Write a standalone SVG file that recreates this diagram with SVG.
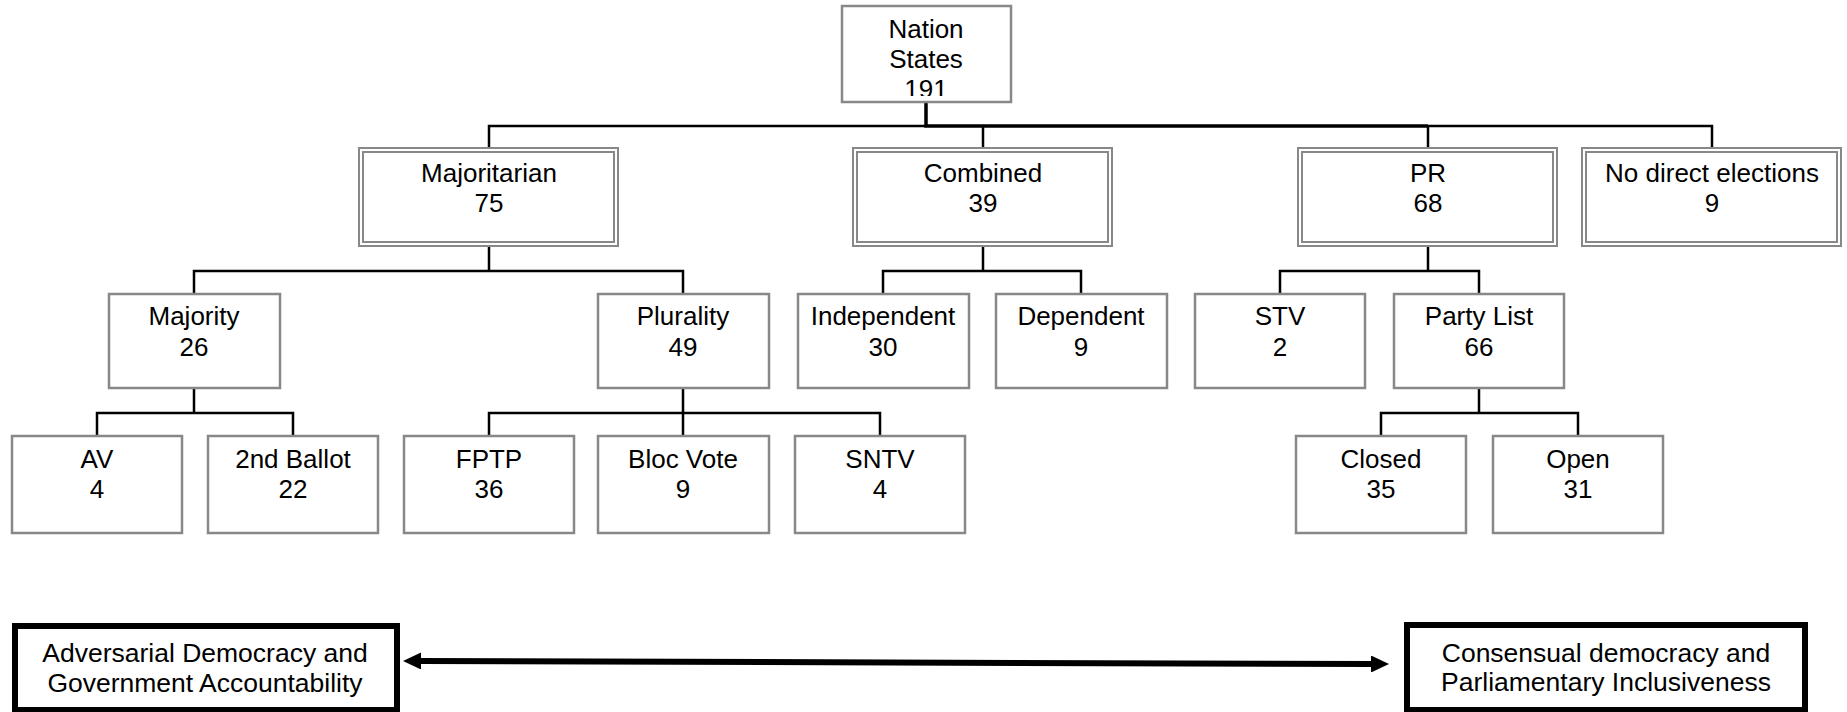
<svg xmlns="http://www.w3.org/2000/svg" width="1847" height="712" viewBox="0 0 1847 712">
<style>
text{font-family:"Liberation Sans",Arial,sans-serif;font-size:26px;fill:#000;text-anchor:middle}
.b{fill:#fff;stroke:#888;stroke-width:2.5}
.d{fill:none;stroke:#888;stroke-width:2}
.c{fill:none;stroke:#000;stroke-width:2.5}
.t{fill:none;stroke:#000;stroke-width:3.5}
.k{fill:#fff;stroke:#000;stroke-width:6}
.bt{font-size:26.5px}
</style>
<defs>
<clipPath id="nclip"><rect x="842" y="6" width="170" height="90"/></clipPath>
<marker id="ah" markerUnits="userSpaceOnUse" markerWidth="18" markerHeight="17" refX="0" refY="8.5" orient="auto-start-reverse" viewBox="0 0 18 17"><path d="M0,0 L18,8.5 L0,17 Z" fill="#000"/></marker>
</defs>
<g id="connectors">
<path class="t" d="M926,102 V126 H1428"/>
<path class="c" d="M489,148 V126 H926 M1428,126 H1712 V148 M983,126 V148 M1428,126 V148"/>
<path class="c" d="M489,245 V271 M194,294 V271 H683 V294"/>
<path class="c" d="M983,245 V271 M883,294 V271 H1081 V294"/>
<path class="c" d="M1428,245 V271 M1280,294 V271 H1479 V294"/>
<path class="c" d="M194,388 V413 M97,436 V413 H293 V436"/>
<path class="c" d="M683,388 V436 M489,436 V413 H880 V436"/>
<path class="c" d="M1479,388 V413 M1381,436 V413 H1578 V436"/>
<line x1="421" y1="661" x2="1371" y2="664" stroke="#000" stroke-width="6" marker-start="url(#ah)" marker-end="url(#ah)"/>
</g>
<g id="nation">
<rect class="b" x="842" y="6" width="169" height="96"/>
<g clip-path="url(#nclip)"><text x="926" y="38">Nation</text><text x="926" y="68">States</text><text x="926" y="98">191</text></g>
</g>
<g id="majoritarian">
<rect class="d" x="359" y="148" width="259" height="98"/><rect class="d" x="363" y="152" width="251" height="90"/>
<text x="489" y="182">Majoritarian</text><text x="489" y="212">75</text>
</g>
<g id="combined">
<rect class="d" x="853" y="148" width="259" height="98"/><rect class="d" x="857" y="152" width="251" height="90"/>
<text x="983" y="182">Combined</text><text x="983" y="212">39</text>
</g>
<g id="pr">
<rect class="d" x="1298" y="148" width="259" height="98"/><rect class="d" x="1302" y="152" width="251" height="90"/>
<text x="1428" y="182">PR</text><text x="1428" y="212">68</text>
</g>
<g id="nodirect">
<rect class="d" x="1582" y="148" width="259" height="98"/><rect class="d" x="1586" y="152" width="251" height="90"/>
<text x="1712" y="182">No direct elections</text><text x="1712" y="212">9</text>
</g>
<g id="majority">
<rect class="b" x="109" y="294" width="171" height="94"/>
<text x="194" y="325">Majority</text><text x="194" y="356">26</text>
</g>
<g id="plurality">
<rect class="b" x="598" y="294" width="171" height="94"/>
<text x="683" y="325">Plurality</text><text x="683" y="356">49</text>
</g>
<g id="independent">
<rect class="b" x="798" y="294" width="171" height="94"/>
<text x="883" y="325">Independent</text><text x="883" y="356">30</text>
</g>
<g id="dependent">
<rect class="b" x="996" y="294" width="171" height="94"/>
<text x="1081" y="325">Dependent</text><text x="1081" y="356">9</text>
</g>
<g id="stv">
<rect class="b" x="1195" y="294" width="170" height="94"/>
<text x="1280" y="325">STV</text><text x="1280" y="356">2</text>
</g>
<g id="partylist">
<rect class="b" x="1394" y="294" width="170" height="94"/>
<text x="1479" y="325">Party List</text><text x="1479" y="356">66</text>
</g>
<g id="av">
<rect class="b" x="12" y="436" width="170" height="97"/>
<text x="97" y="468">AV</text><text x="97" y="498">4</text>
</g>
<g id="secondballot">
<rect class="b" x="208" y="436" width="170" height="97"/>
<text x="293" y="468">2nd Ballot</text><text x="293" y="498">22</text>
</g>
<g id="fptp">
<rect class="b" x="404" y="436" width="170" height="97"/>
<text x="489" y="468">FPTP</text><text x="489" y="498">36</text>
</g>
<g id="blocvote">
<rect class="b" x="598" y="436" width="171" height="97"/>
<text x="683" y="468">Bloc Vote</text><text x="683" y="498">9</text>
</g>
<g id="sntv">
<rect class="b" x="795" y="436" width="170" height="97"/>
<text x="880" y="468">SNTV</text><text x="880" y="498">4</text>
</g>
<g id="closed">
<rect class="b" x="1296" y="436" width="170" height="97"/>
<text x="1381" y="468">Closed</text><text x="1381" y="498">35</text>
</g>
<g id="open">
<rect class="b" x="1493" y="436" width="170" height="97"/>
<text x="1578" y="468">Open</text><text x="1578" y="498">31</text>
</g>
<g id="adversarial">
<rect class="k" x="15" y="626" width="382" height="84"/>
<text class="bt" x="205" y="662">Adversarial Democracy and</text><text class="bt" x="205" y="692">Government Accountability</text>
</g>
<g id="consensual">
<rect class="k" x="1407" y="625" width="398" height="85"/>
<text class="bt" x="1606" y="662">Consensual democracy and</text><text class="bt" x="1606" y="691">Parliamentary Inclusiveness</text>
</g>
</svg>
